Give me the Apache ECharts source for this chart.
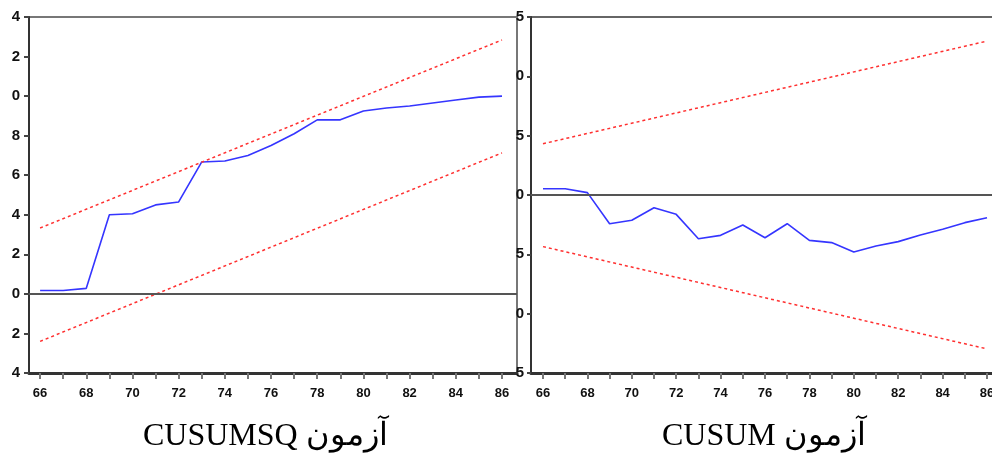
<!DOCTYPE html>
<html>
<head>
<meta charset="utf-8">
<script src="https://cdn.jsdelivr.net/npm/echarts@6/dist/echarts.min.js"></script>
<style>html,body{margin:0;padding:0;background:#fff}#c{width:992px;height:459px}</style>
</head>
<body>
<div id="c"></div>
<script>
// Years (last two digits)
const years = [66,67,68,69,70,71,72,73,74,75,76,77,78,79,80,81,82,83,84,85,86];
const yearLabels = [66,68,70,72,74,76,78,80,82,84,86];
// CUSUMSQ statistic
const cusumsq = [0.017,0.017,0.028,0.40,0.405,0.45,0.465,0.667,0.672,0.70,0.75,0.81,0.88,0.88,0.925,0.94,0.95,0.965,0.98,0.995,1.0];
// CUSUMSQ 5% bounds (start, end)
const bandYears = [66,86];
const cusumsqUpper = [0.333,1.284];
const cusumsqLower = [-0.24,0.713];
// CUSUM statistic
const cusum = [0.53,0.53,0.2,-2.42,-2.13,-1.07,-1.63,-3.68,-3.40,-2.53,-3.6,-2.42,-3.82,-4.01,-4.8,-4.3,-3.93,-3.37,-2.89,-2.33,-1.91];
const cusumUpper = [4.32,12.97];
const cusumLower = [-4.35,-12.97];
// Tick labels as printed (bottom to top)
const sqTickLabels = ['4','2','0','2','4','6','8','0','2','4'];
const cuTickLabels = ['5','0','5','0','5','0','5'];
const titleLeft = '\u202Bآزمون CUSUMSQ\u202C';
const titleRight = '\u202Bآزمون CUSUM\u202C';

const pair = (xs, ys) => xs.map((x, i) => [x, ys[i]]);
const labelFont = {color:'#111', fontWeight:'bold', fontFamily:'"Liberation Sans", Arial', fontSize:13};
const zeroLine = {silent:true, symbol:'none', label:{show:false}, lineStyle:{color:'#555', width:2, type:'solid'}, data:[{yAxis:0}]};
const xAxisCommon = {
  type:'value',
  axisLine:{onZero:false, lineStyle:{color:'#333', width:3}},
  axisTick:{customValues:years, length:6, lineStyle:{color:'#777', width:2}},
  axisLabel:Object.assign({customValues:yearLabels, margin:14}, labelFont),
  splitLine:{show:false}
};

const chart = echarts.init(document.getElementById('c'));
chart.setOption({
  animation:false,
  backgroundColor:'#fff',
  grid:[
    {left:29, top:17, width:488, height:356, show:true, borderColor:'#777', borderWidth:2, backgroundColor:'transparent', outerBoundsMode:'none', containLabel:false},
    {left:531, top:17, width:470, height:356, show:true, borderColor:'#666', borderWidth:2, backgroundColor:'transparent', outerBoundsMode:'none', containLabel:false}
  ],
  xAxis:[
    Object.assign({gridIndex:0, min:65.52, max:86.65}, xAxisCommon),
    Object.assign({gridIndex:1, min:65.46, max:86.63}, xAxisCommon)
  ],
  yAxis:[
    {gridIndex:0, type:'value', min:-0.4, max:1.4, interval:0.2,
     axisLine:{show:true, lineStyle:{color:'#333', width:2}},
     axisTick:{show:true, length:5, lineStyle:{color:'#444', width:2}},
     axisLabel:Object.assign({margin:9, formatter:(v)=>sqTickLabels[Math.round((v+0.4)/0.2)]}, labelFont, {fontSize:15}),
     splitLine:{show:false}},
    {gridIndex:1, type:'value', min:-15, max:15, interval:5,
     axisLine:{show:true, lineStyle:{color:'#333', width:2}},
     axisTick:{show:true, length:4, lineStyle:{color:'#444', width:2}},
     axisLabel:Object.assign({margin:7, formatter:(v)=>cuTickLabels[Math.round((v+15)/5)]}, labelFont, {fontSize:15}),
     splitLine:{show:false}}
  ],
  series:[
    {type:'line', xAxisIndex:0, yAxisIndex:0, data:pair(years, cusumsq), symbol:'none',
     lineStyle:{color:'#3535ff', width:1.6}, markLine:zeroLine, z:3},
    {type:'line', xAxisIndex:0, yAxisIndex:0, data:pair(bandYears, cusumsqUpper), symbol:'none',
     lineStyle:{color:'#ff3030', width:1.5, type:[3,3]}},
    {type:'line', xAxisIndex:0, yAxisIndex:0, data:pair(bandYears, cusumsqLower), symbol:'none',
     lineStyle:{color:'#ff3030', width:1.5, type:[3,3]}},
    {type:'line', xAxisIndex:1, yAxisIndex:1, data:pair(years, cusum), symbol:'none',
     lineStyle:{color:'#3535ff', width:1.6}, markLine:zeroLine, z:3},
    {type:'line', xAxisIndex:1, yAxisIndex:1, data:pair(bandYears, cusumUpper), symbol:'none',
     lineStyle:{color:'#ff3030', width:1.5, type:[3,3]}},
    {type:'line', xAxisIndex:1, yAxisIndex:1, data:pair(bandYears, cusumLower), symbol:'none',
     lineStyle:{color:'#ff3030', width:1.5, type:[3,3]}}
  ],
  graphic:[
    {type:'text', x:143, y:437, style:{text:titleLeft, font:'32px "Liberation Serif", "DejaVu Serif", serif', fill:'#000', textAlign:'left', textVerticalAlign:'middle'}},
    {type:'text', x:662, y:437, style:{text:titleRight, font:'32px "Liberation Serif", "DejaVu Serif", serif', fill:'#000', textAlign:'left', textVerticalAlign:'middle'}}
  ]
});
</script>
</body>
</html>
